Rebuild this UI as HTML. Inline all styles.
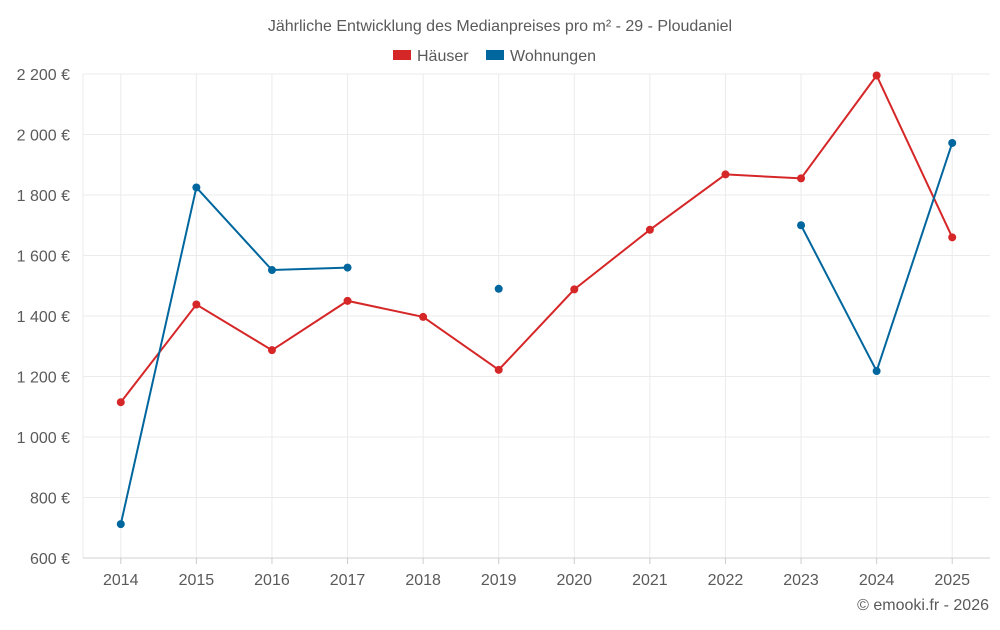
<!DOCTYPE html>
<html><head><meta charset="utf-8"><style>
body{margin:0;background:#fff;font-family:"Liberation Sans",sans-serif;}
svg text{font-family:"Liberation Sans",sans-serif;fill:#5a5a5a;}
</style></head><body>
<svg id="chart" width="1000" height="625" viewBox="0 0 1000 625" xmlns="http://www.w3.org/2000/svg">
<text x="500" y="31" text-anchor="middle" font-size="16">Jährliche Entwicklung des Medianpreises pro m² - 29 - Ploudaniel</text>
<g>
<g><rect x="393" y="50" width="18" height="10" fill="#d62728"/><text x="417" y="61" font-size="16">Häuser</text></g>
<g><rect x="486" y="50" width="18" height="10" fill="#00669e"/><text x="510" y="61" font-size="16">Wohnungen</text></g>
</g>
<g id="grid"></g>
<g id="axes"></g>
<g id="series"></g>
<text x="989" y="610" text-anchor="end" font-size="16">© emooki.fr - 2026</text>
</svg>
<script>
const categories=[2014,2015,2016,2017,2018,2019,2020,2021,2022,2023,2024,2025];
const haeuser=[1115,1438,1287,1450,1397,1222,1488,1685,1868,1855,2195,1660];
const wohnungen=[712,1825,1552,1560,null,1490,null,null,null,1700,1218,1972];
const yTicks=[600,800,1000,1200,1400,1600,1800,2000,2200];
const yTickLabels=["600 €","800 €","1 000 €","1 200 €","1 400 €","1 600 €","1 800 €","2 000 €","2 200 €"];
const NS="http://www.w3.org/2000/svg";
const L=83,R=990,T=74,B=558,ymin=600,ymax=2200;
const band=(R-L)/categories.length;
function x(i){return L+band*(i+0.5);}
function y(v){return B-(v-ymin)*(B-T)/(ymax-ymin);}
function mk(tag,attrs,parent){const e=document.createElementNS(NS,tag);for(const k in attrs)e.setAttribute(k,attrs[k]);parent.appendChild(e);return e;}
const grid=document.getElementById('grid'),axes=document.getElementById('axes'),series=document.getElementById('series');
const lg=mk('line',{x1:L,x2:L,y1:T,y2:B,stroke:'#ebebeb'},grid);


categories.forEach((c,i)=>{
 const l=mk('line',{x1:x(i),x2:x(i),y1:T,y2:B,stroke:'#ebebeb'},grid);
 
 
});
yTicks.forEach((v,i)=>{
 const l=mk('line',{x1:L,x2:R,y1:y(v),y2:y(v),stroke:v===ymin?'#d0d0d0':'#ebebeb'},grid);
 
 
 const t=mk('text',{x:L-13,y:y(v)+6,'text-anchor':'end','font-size':16},axes);
 t.textContent=yTickLabels[i];
 
 
});
categories.forEach((c,i)=>{
 const tk=mk('line',{x1:x(i),x2:x(i),y1:B,y2:B+6,stroke:'#ccc'},axes);
 
 
 const t=mk('text',{x:x(i),y:B+27,'text-anchor':'middle','font-size':16},axes);
 t.textContent=c;
 
 
});
function draw(data,color,name){
 let d='',pen=false;
 data.forEach((v,i)=>{if(v==null){pen=false;return;}d+=(pen?'L':'M')+x(i)+' '+y(v)+' ';pen=true;});
 const p=mk('path',{d:d,fill:'none',stroke:color,'stroke-width':2},series);
 
 
 data.forEach((v,i)=>{if(v==null)return;
  const c=mk('circle',{cx:x(i),cy:y(v),r:4,fill:color},series);
  
  
 });
}
draw(haeuser,'#d62728','haeuser');
draw(wohnungen,'#00669e','wohnungen');
</script>
</body></html>
